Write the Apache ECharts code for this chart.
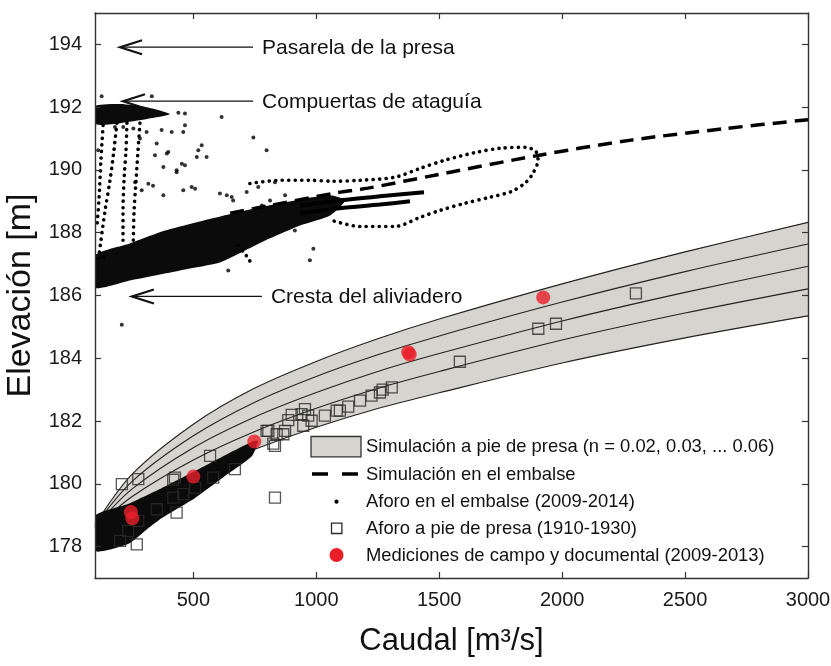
<!DOCTYPE html>
<html><head><meta charset="utf-8">
<script src="https://cdn.jsdelivr.net/npm/echarts@6/dist/echarts.min.js"></script>
<style>html,body{margin:0;padding:0;background:#fff}#c{width:831px;height:666px}</style>
</head><body><div id="c"></div>
<script>
const FONT = '"Liberation Sans", Arial, Helvetica, sans-serif';

// axis ticks
const xTicks = [500, 1000, 1500, 2000, 2500, 3000];
const yTicks = [178, 180, 182, 184, 186, 188, 190, 192, 194];

// simulated rating curves at the dam foot (n = 0.02 ... 0.06)
const bandQ    = [100, 250, 500, 750, 1000, 1250, 1500, 2000, 2500, 3000];
const curveN06 = [178.70, 180.30, 181.90, 183.05, 183.90, 184.62, 185.25, 186.37, 187.39, 188.33];
const curveN05 = [178.67, 180.07, 181.53, 182.60, 183.42, 184.11, 184.71, 185.79, 186.76, 187.64];
const curveN04 = [178.63, 179.83, 181.15, 182.13, 182.91, 183.58, 184.15, 185.19, 186.10, 186.93];
const curveN03 = [178.59, 179.59, 180.76, 181.67, 182.41, 183.04, 183.58, 184.58, 185.44, 186.21];
const curveN02 = [178.55, 179.30, 180.30, 181.10, 181.80, 182.40, 182.90, 183.85, 184.65, 185.35];

// simulated curve in the reservoir (dashed)
const reservoirSimQ = [650, 800, 1066, 1210, 1500, 1908, 2280, 2665, 3000];
const reservoirSimY = [188.62, 188.85, 189.25, 189.42, 189.86, 190.47, 190.95, 191.32, 191.60];

// field / documentary measurements (red)
const fieldQ = [246, 252, 500, 748, 1374, 1380, 1923];
const fieldY = [179.10, 178.90, 180.23, 181.35, 184.19, 184.12, 185.94];

// dam-foot gaugings 1910-1930 (squares)
const damFootQ = [209, 276, 425, 418, 432, 459, 351, 276, 270, 202, 235, 507, 581, 568, 669, 832, 832, 805, 839, 873,
  886, 947, 954, 967, 981, 1035, 1083, 1130, 1178, 1225, 1259, 1270, 1307, 1584, 1903, 1975, 2300, 418, 900, 940,
  1096, 798, 825, 866];
const damFootY = [179.99, 180.15, 180.20, 179.56, 179.08, 179.67, 179.19, 178.82, 178.07, 178.18, 178.50, 179.88, 180.20, 180.89, 180.47, 179.56, 181.21, 181.69, 181.58, 181.69,
  182.03, 181.85, 182.38, 182.17, 182.01, 182.17, 182.33, 182.46, 182.65, 182.81, 182.91, 183.00, 183.07, 183.89, 184.94, 185.10, 186.07, 180.13, 182.20, 182.22,
  182.33, 181.69, 181.28, 181.58];

// reservoir gaugings 2009-2014 (isolated dots)
const resDotsQ = [127, 331, 439, 466, 615, 466, 459, 744, 798, 520, 554, 378, 432, 466, 317, 493, 507, 636, 351, 398,
  344, 113, 215, 256, 310, 371, 412, 283, 534, 392, 432, 378, 459, 832, 764, 717, 608, 656, 988, 642,
  913, 263, 290, 134, 181, 209, 453, 336, 662, 514, 812, 873, 779, 974];
const resDotsY = [192.35, 192.35, 191.82, 191.80, 191.69, 191.42, 191.21, 191.03, 190.63, 190.63, 190.41, 190.09, 189.99, 190.15, 189.56, 189.46, 189.40, 189.19, 190.84, 190.57,
  190.47, 190.63, 191.37, 191.32, 191.21, 191.27, 191.21, 191.00, 190.79, 190.52, 189.93, 189.19, 189.35, 189.61, 189.46, 189.30, 189.25, 189.14, 187.49, 186.80,
  188.07, 189.61, 189.35, 187.22, 191.37, 185.07, 190.20, 189.50, 189.03, 190.41, 189.03, 189.19, 188.87, 187.12];

// reservoir gauging trajectories (dotted runs of points)
const trackLoop = [[730,189.57],[852,189.67],[974,189.67],[1068,189.64],[1178,189.67],[1320,189.77],[1422,190.05],[1523,190.31],
  [1650,190.56],[1747,190.69],[1853,190.72],[1893,190.59],[1902,190.31],[1881,189.89],[1853,189.61],[1796,189.32],
  [1706,189.13],[1605,188.94],[1503,188.71],[1422,188.49],[1320,188.20],[1178,188.20],[1064,188.39]];
const trackFall1 = [[189,191.49],[177,190.63],[161,189.67],[141,188.71],[124,187.75],[112,187.05]];
const trackFall2 = [[230,191.49],[226,190.63],[218,189.67],[214,188.71],[214,187.59]];
const trackFall3 = [[283,191.49],[275,190.63],[267,189.67],[259,188.71],[255,187.43]];
const trackFall4 = [[133,191.42],[124,190.31],[116,189.03],[108,188.23]];
const trackHook  = [[682,187.59],[706,187.37],[726,187.15],[743,186.92]];
const denseTrack1 = [[934,188.87],[1096,189.03],[1259,189.16],[1438,189.29]];
const denseTrack2 = [[934,188.62],[1096,188.78],[1259,188.90],[1381,189.00]];

// outlines of the areas where the gauging points merge into solid black
const upperCloud = [[100,187.28],[242,187.66],[385,188.07],[527,188.36],[730,188.74],[934,189.06],[1056,189.19],[1117,189.03],
  [1056,188.55],[934,188.23],[812,187.82],[710,187.43],[608,187.05],[446,186.80],[242,186.48],[100,186.25]];
const blobCloud = [[100,192.03],[202,192.10],[311,192.00],[405,191.78],[311,191.62],[202,191.49],[100,191.46]];
const footCloud = [[100,178.98],[234,179.36],[372,179.87],[507,180.41],[641,180.96],[739,181.34],[763,181.37],
  [739,180.89],[641,180.32],[507,179.55],[372,178.91],[303,178.50],[234,178.08],[100,177.86]];

// annotations
const annoText = ['Pasarela de la presa', 'Compuertas de ataguía', 'Cresta del aliviadero'];
const annoY    = [193.91, 192.19, 185.97];
const annoTipQ = [202, 214, 250];
const annoTailQ = [743, 743, 779];

// legend entries
const legendText = [
  'Simulación a pie de presa (n = 0.02, 0.03, ... 0.06)',
  'Simulación en el embalse',
  'Aforo en el embalse (2009-2014)',
  'Aforo a pie de presa (1910-1930)',
  'Mediciones de campo y documental (2009-2013)'
];

const BAND = '#d6d4cf';
const RED = '#ea1f29';
const pairs = (qs, ys) => qs.map((q, i) => [q, ys[i]]);

function polySeries(name, poly) {
  return {
    name: name, type: 'custom', data: poly, encode: {x: 0, y: 1}, z: 3, silent: true, clip: true,
    renderItem: function (params, api) {
      if (params.dataIndex !== 0) return null;
      const pts = poly.map(p => api.coord(p));
      return {type: 'polygon', shape: {points: pts, smooth: 0.2}, style: {fill: '#0b0b0b'}};
    }
  };
}
function trackSeries(name, pts) {
  return {
    name: name, type: 'line', data: pts, symbol: 'none', smooth: 0.3, z: 4, silent: true,
    lineStyle: {color: '#000', width: 3.6, type: [0.1, 6.4], cap: 'round'}
  };
}
function denseSeries(name, pts) {
  return {
    name: name, type: 'line', data: pts, symbol: 'none', smooth: 0.3, z: 4, silent: true,
    lineStyle: {color: '#000', width: 4}
  };
}
function curveSeries(name, ys, area) {
  const s = {
    name: name, type: 'line', data: pairs(bandQ, ys), symbol: 'none', smooth: 0.3,
    z: area ? 1 : 2, silent: true, lineStyle: {color: '#222', width: 1.1}
  };
  if (area) s.areaStyle = {color: area, opacity: 1, origin: 'start'};
  return s;
}
const axisLineStyle = {color: '#333', width: 1.4};
const plainNum = v => String(v);

// legend drawn as graphic elements (icons + real text)
const LX = 311, LTX = 366, rowsY = [446.7, 474, 501.7, 528.3, 555];
const legendGraphics = [
  {type: 'rect', shape: {x: LX, y: rowsY[0] - 10.2, width: 50, height: 20.4},
   style: {fill: BAND, stroke: '#333', lineWidth: 1.3}, z: 20},
  {type: 'line', shape: {x1: LX + 1, y1: rowsY[1], x2: LX + 50, y2: rowsY[1]},
   style: {stroke: '#000', lineWidth: 3.5, lineDash: [16, 14]}, z: 20},
  {type: 'circle', shape: {cx: LX + 25.5, cy: rowsY[2], r: 2.1}, style: {fill: '#000'}, z: 20},
  {type: 'rect', shape: {x: LX + 20.5, y: rowsY[3] - 5.2, width: 10.4, height: 10.4},
   style: {fill: 'none', stroke: '#2a2a2a', lineWidth: 1.3}, z: 20},
  {type: 'circle', shape: {cx: LX + 25.5, cy: rowsY[4], r: 7}, style: {fill: RED}, z: 20}
].concat(legendText.map((t, i) => ({
  type: 'text', x: LTX, y: rowsY[i] + 0.5, z: 20,
  style: {text: t, fontSize: 18.4, fontFamily: FONT, fill: '#111', verticalAlign: 'middle', align: 'left'}
})));

const chart = echarts.init(document.getElementById('c'), null, {renderer: 'canvas'});
chart.setOption({
  animation: false,
  backgroundColor: '#fff',
  grid: {left: 95, right: 23, top: 13, bottom: 88, containLabel: false, outerBoundsMode: 'none'},
  xAxis: [
    {type: 'value', min: 100, max: 3000, position: 'bottom', z: 10,
     axisLine: {onZero: false, lineStyle: axisLineStyle},
     axisTick: {inside: true, length: 6, customValues: xTicks, lineStyle: {color: '#333', width: 1.2}},
     axisLabel: {customValues: xTicks, formatter: plainNum, fontSize: 20, fontFamily: FONT, color: '#1a1a1a', margin: 12},
     splitLine: {show: false},
     name: 'Caudal [m³/s]', nameLocation: 'middle', nameGap: 48,
     nameTextStyle: {fontSize: 31, fontFamily: FONT, color: '#111'}},
    {type: 'value', min: 100, max: 3000, position: 'top', z: 10,
     axisLine: {onZero: false, lineStyle: axisLineStyle},
     axisTick: {inside: true, length: 6, customValues: xTicks, lineStyle: {color: '#333', width: 1.2}},
     axisLabel: {show: false}, splitLine: {show: false}}
  ],
  yAxis: [
    {type: 'value', min: 177, max: 195, position: 'left', z: 10,
     axisLine: {onZero: false, lineStyle: axisLineStyle},
     axisTick: {inside: true, length: 6, customValues: yTicks, lineStyle: {color: '#333', width: 1.2}},
     axisLabel: {customValues: yTicks, formatter: plainNum, fontSize: 20, fontFamily: FONT, color: '#1a1a1a', margin: 13},
     splitLine: {show: false},
     name: 'Elevación [m]', nameLocation: 'middle', nameGap: 55,
     nameTextStyle: {fontSize: 34, fontFamily: FONT, color: '#111'}},
    {type: 'value', min: 177, max: 195, position: 'right', z: 10,
     axisLine: {onZero: false, lineStyle: axisLineStyle},
     axisTick: {inside: true, length: 6, customValues: yTicks, lineStyle: {color: '#333', width: 1.2}},
     axisLabel: {show: false}, splitLine: {show: false}}
  ],
  graphic: legendGraphics,
  series: [
    curveSeries(legendText[0], curveN06, BAND),
    curveSeries('n02', curveN02, '#ffffff'),
    curveSeries('n05', curveN05),
    curveSeries('n04', curveN04),
    curveSeries('n03', curveN03),
    polySeries('cloudUpper', upperCloud),
    polySeries('cloudBlob', blobCloud),
    polySeries('cloudFoot', footCloud),
    trackSeries('loop', trackLoop),
    trackSeries('fall1', trackFall1),
    trackSeries('fall2', trackFall2),
    trackSeries('fall3', trackFall3),
    trackSeries('fall4', trackFall4),
    trackSeries('hook', trackHook),
    denseSeries('dense1', denseTrack1),
    denseSeries('dense2', denseTrack2),
    {name: legendText[2], type: 'scatter', data: pairs(resDotsQ, resDotsY), symbol: 'circle', symbolSize: 4, z: 4,
     silent: true, itemStyle: {color: '#000'}},
    {name: legendText[3], type: 'scatter', data: pairs(damFootQ, damFootY), symbol: 'rect', symbolSize: 11, z: 5,
     silent: true, itemStyle: {color: 'rgba(0,0,0,0)', borderColor: '#2a2a2a', borderWidth: 1.3}},
    {name: legendText[1], type: 'line', data: pairs(reservoirSimQ, reservoirSimY), symbol: 'none', smooth: 0.3, z: 6,
     silent: true, lineStyle: {color: '#000', width: 3.5, type: [14, 8]}},
    {name: legendText[4], type: 'scatter', data: pairs(fieldQ, fieldY), symbol: 'circle', symbolSize: 14, z: 7,
     silent: true, itemStyle: {color: RED}},
    {name: 'annotations', type: 'custom', z: 10, silent: true, clip: false,
     data: annoText.map((t, i) => [annoTipQ[i], annoY[i], annoTailQ[i]]),
     encode: {x: 0, y: 1},
     renderItem: function (params, api) {
       const tip = api.coord([api.value(0), api.value(1)]);
       const tail = api.coord([api.value(2), api.value(1)]);
       return {type: 'group', children: [
         {type: 'line', shape: {x1: tail[0], y1: tail[1], x2: tip[0] + 1, y2: tip[1]},
          style: {stroke: '#111', lineWidth: 1.3}},
         {type: 'polyline', shape: {points: [[tip[0] + 22, tip[1] - 7], [tip[0], tip[1]], [tip[0] + 22, tip[1] + 7]]},
          style: {stroke: '#111', lineWidth: 2.2, fill: null}},
         {type: 'text', x: tail[0] + 9, y: tip[1] + 1,
          style: {text: annoText[params.dataIndex], fontSize: 21, fontFamily: FONT, fill: '#111',
                  verticalAlign: 'middle', align: 'left'}}
       ]};
     }}
  ]
});
</script>
</body></html>
